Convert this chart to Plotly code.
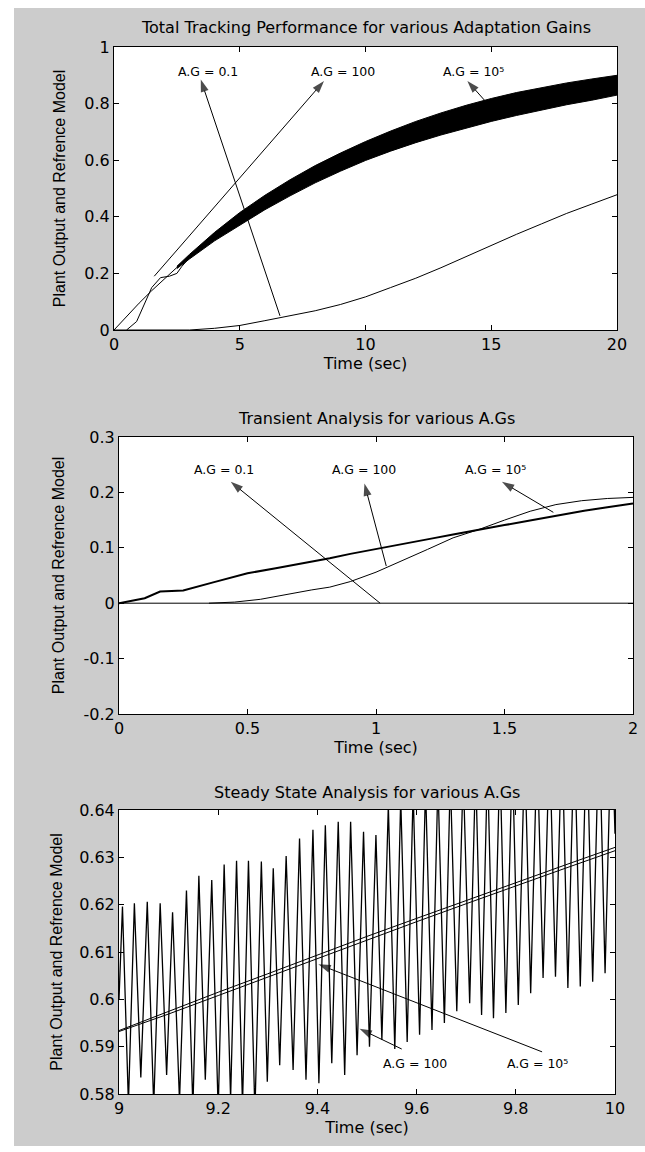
import plotly.graph_objects as go

# ---------------- data ----------------
# Panel 1: Total tracking performance (0..20 s)
ref1_t = [0, 0.5, 1, 1.5, 2, 2.5, 3, 4, 5, 6, 7, 8, 9, 10, 11, 12, 13, 14, 15, 16, 17, 18, 19, 20]
ref1_v = [0, 0.049, 0.095, 0.139, 0.181, 0.221, 0.259, 0.330, 0.393, 0.451, 0.503, 0.551, 0.593,
          0.632, 0.667, 0.699, 0.727, 0.753, 0.777, 0.798, 0.817, 0.835, 0.850, 0.865]
band_t = [2.5, 3, 4, 5, 6, 7, 8, 9, 10, 11, 12, 13, 14, 15, 16, 17, 18, 19, 20]
band_hi = [0.225, 0.267, 0.345, 0.415, 0.476, 0.531, 0.581, 0.625, 0.666, 0.703, 0.737, 0.767,
           0.794, 0.818, 0.839, 0.857, 0.873, 0.887, 0.900]
band_lo = [0.217, 0.251, 0.315, 0.371, 0.425, 0.474, 0.520, 0.561, 0.599, 0.632, 0.662, 0.689,
           0.714, 0.737, 0.758, 0.777, 0.796, 0.812, 0.830]
ag100_1_t = [0.5, 0.9, 1.5, 1.85, 2.2, 2.35, 2.5, 2.7, 2.9]
ag100_1_v = [0.0, 0.03, 0.15, 0.185, 0.19, 0.195, 0.2, 0.225, 0.245]
ag01_1_t = [0, 3, 4, 5, 6, 7, 8, 9, 10, 11, 12, 13, 14, 15, 16, 17, 18, 19, 20]
ag01_1_v = [0, 0.0, 0.006, 0.016, 0.033, 0.05, 0.068, 0.09, 0.117, 0.15, 0.183, 0.22, 0.26,
            0.3, 0.338, 0.375, 0.412, 0.445, 0.478]

# Panel 2: Transient (0..2 s)
ag1e5_2_t = [0, 0.1, 0.16, 0.25, 0.37, 0.5, 0.61, 0.73, 0.82, 0.9, 1.02, 1.1, 1.22, 1.3, 1.42,
             1.5, 1.61, 1.7, 1.81, 1.9, 2.0]
ag1e5_2_v = [0, 0.009, 0.021, 0.023, 0.038, 0.054, 0.063, 0.073, 0.081, 0.089, 0.099, 0.106,
             0.117, 0.124, 0.135, 0.141, 0.150, 0.158, 0.167, 0.173, 0.180]
ag100_2_t = [0.35, 0.45, 0.55, 0.65, 0.75, 0.82, 0.9, 1.0, 1.1, 1.2, 1.3, 1.4, 1.5, 1.6, 1.7,
             1.8, 1.9, 2.0]
ag100_2_v = [0.0, 0.002, 0.007, 0.016, 0.024, 0.029, 0.039, 0.056, 0.076, 0.097, 0.118, 0.133,
             0.150, 0.166, 0.178, 0.185, 0.189, 0.191]
ag01_2_t = [0, 2]
ag01_2_v = [0, 0]

# Panel 3: Steady state (9..10 s)
ref3_t = [9.0, 9.1, 9.2, 9.3, 9.4, 9.5, 9.6, 9.7, 9.8, 9.9, 10.0]
ref3_v = [0.5934, 0.5975, 0.6015, 0.6054, 0.6094, 0.6133, 0.6171, 0.6209, 0.6247, 0.6284, 0.6321]
ag1e5_3_v = [0.5932, 0.5969, 0.6008, 0.6047, 0.6086, 0.6126, 0.6164, 0.6202, 0.6240, 0.6277, 0.6314]
peak_t = [9.007, 9.031, 9.057, 9.083, 9.108, 9.136, 9.161, 9.187, 9.212, 9.237, 9.261, 9.287,
          9.311, 9.337, 9.364, 9.391, 9.416, 9.442, 9.467, 9.493, 9.518, 9.543, 9.568, 9.593,
          9.618, 9.643, 9.668, 9.694, 9.719, 9.743, 9.768, 9.793, 9.818, 9.843, 9.868, 9.893,
          9.918, 9.943, 9.968, 9.993]
peak_v = [0.6196, 0.6203, 0.6206, 0.6203, 0.6184, 0.6230, 0.6261, 0.6252, 0.6285, 0.6293, 0.6293,
          0.6291, 0.6277, 0.6303, 0.6340, 0.6358, 0.6368, 0.6375, 0.6375, 0.6354, 0.6347, 0.6410,
          0.6425, 0.6440, 0.6450, 0.6460, 0.6470, 0.6480, 0.6490, 0.6500, 0.6510, 0.6520, 0.6530,
          0.6540, 0.6550, 0.6560, 0.6570, 0.6580, 0.6590, 0.6600]
trough_t = [9.019, 9.044, 9.070, 9.096, 9.122, 9.149, 9.174, 9.200, 9.225, 9.249, 9.274, 9.299,
            9.324, 9.351, 9.377, 9.403, 9.429, 9.455, 9.480, 9.505, 9.530, 9.556, 9.581, 9.606,
            9.631, 9.656, 9.681, 9.707, 9.731, 9.755, 9.780, 9.805, 9.830, 9.855, 9.880, 9.905,
            9.930, 9.955, 9.980]
trough_v = [0.5780, 0.5835, 0.5775, 0.5840, 0.5785, 0.5770, 0.5830, 0.5765, 0.5790, 0.5775, 0.5760,
            0.5826, 0.5861, 0.5851, 0.5830, 0.5823, 0.5865, 0.5840, 0.5882, 0.5900, 0.5914, 0.5895,
            0.5910, 0.5925, 0.5935, 0.5950, 0.5975, 0.5992, 0.5967, 0.5960, 0.5971, 0.5988, 0.6013,
            0.6045, 0.6048, 0.6024, 0.6027, 0.6037, 0.6055]
osc_start = (9.0, 0.600)
osc_end = (10.0, 0.635)

# tick labels
y2_tickvals = [-0.2, -0.1, 0, 0.1, 0.2, 0.3]
y2_ticktext = ["-0.2", "-0.1", "0", "0.1", "0.2", "0.3"]

titles = ["Total Tracking Performance for various Adaptation Gains",
          "Transient Analysis for various A.Gs",
          "Steady State Analysis for various A.Gs"]
xlabel = "Time (sec)"
ylabel = "Plant Output and Refrence Model"

# annotations: (label, text_x, text_y, head_x, head_y, tail_x, tail_y)
labels1 = [("A.G = 0.1", 3.75, 0.915, 3.45, 0.885, 6.6, 0.05),
           ("A.G = 100", 9.1, 0.915, 8.35, 0.88, 1.6, 0.19),
           ("A.G = 10⁵", 14.3, 0.915, 14.05, 0.88, 14.8, 0.805)]
labels2 = [("A.G = 0.1", 0.41, 0.241, 0.435, 0.219, 1.016, 0.0),
           ("A.G = 100", 0.954, 0.241, 0.955, 0.216, 1.04, 0.067),
           ("A.G = 10⁵", 1.464, 0.241, 1.49, 0.219, 1.69, 0.164)]
labels3 = [("A.G = 100", 9.597, 0.5865, 9.485, 0.5938, 9.57, 0.5895),
           ("A.G = 10⁵", 9.843, 0.5865, 9.402, 0.6074, 9.853, 0.5889)]

# ---------------- figure ----------------
W, H = 645, 1152


def fx(p):
    return p / W


def fy(p):
    return 1 - p / H


fig = go.Figure()
K = dict(showlegend=False, hoverinfo="skip")
L1 = dict(color="black", width=1)

# panel 1
fig.add_trace(go.Scatter(x=ag01_1_t, y=ag01_1_v, mode="lines", line=L1, xaxis="x", yaxis="y", **K))
fig.add_trace(go.Scatter(x=ref1_t, y=ref1_v, mode="lines", line=L1, xaxis="x", yaxis="y", **K))
fig.add_trace(go.Scatter(x=ag100_1_t, y=ag100_1_v, mode="lines", line=L1, xaxis="x", yaxis="y", **K))
fig.add_trace(go.Scatter(x=band_t, y=band_lo, mode="lines", line=L1, xaxis="x", yaxis="y", **K))
fig.add_trace(go.Scatter(x=band_t, y=band_hi, mode="lines", line=L1, fill="tonexty",
                         fillcolor="black", xaxis="x", yaxis="y", **K))

# panel 2
fig.add_trace(go.Scatter(x=ag01_2_t, y=ag01_2_v, mode="lines", line=L1, xaxis="x2", yaxis="y2", **K))
fig.add_trace(go.Scatter(x=ag100_2_t, y=ag100_2_v, mode="lines", line=L1, xaxis="x2", yaxis="y2", **K))
fig.add_trace(go.Scatter(x=ag1e5_2_t, y=ag1e5_2_v, mode="lines", line=dict(color="black", width=2),
                         xaxis="x2", yaxis="y2", **K))

# panel 3
pts = [osc_start] + sorted(list(zip(peak_t, peak_v)) + list(zip(trough_t, trough_v))) + [osc_end]
fig.add_trace(go.Scatter(x=[p[0] for p in pts], y=[p[1] for p in pts], mode="lines",
                         line=dict(color="black", width=1.3), xaxis="x3", yaxis="y3", **K))
fig.add_trace(go.Scatter(x=ref3_t, y=ref3_v, mode="lines", line=L1, xaxis="x3", yaxis="y3", **K))
fig.add_trace(go.Scatter(x=ref3_t, y=ag1e5_3_v, mode="lines", line=L1, xaxis="x3", yaxis="y3", **K))

# arrows (shaft + arrow-head marker oriented along the shaft)
for labs, xa, ya in [(labels1, "x", "y"), (labels2, "x2", "y2"), (labels3, "x3", "y3")]:
    for txt, tx, ty, hx, hy, sx, sy in labs:
        fig.add_trace(go.Scatter(x=[sx, hx], y=[sy, hy], mode="lines+markers", line=L1,
                                 marker=dict(symbol="arrow", size=[0, 13], angleref="previous",
                                             color="black", line=dict(width=0)),
                                 xaxis=xa, yaxis=ya, cliponaxis=False, **K))

TICKFONT = dict(family="DejaVu Sans", size=16, color="black")
TFONT = dict(family="DejaVu Sans", size=16, color="black")
YFONT = dict(family="Liberation Sans", size=16, color="black")
ax = dict(showline=True, linecolor="black", linewidth=1, mirror="ticks", ticks="inside", ticklen=5,
          tickwidth=1, tickcolor="black", showgrid=False, zeroline=False, tickfont=TICKFONT,
          automargin=False)

layout = dict(
    width=W, height=H, margin=dict(l=0, r=0, t=0, b=0),
    paper_bgcolor="#cccccc", plot_bgcolor="white",
    xaxis=dict(ax, domain=[fx(114), fx(617)], range=[0, 20], dtick=5, anchor="y",
               title=dict(text=xlabel, font=TFONT, standoff=4)),
    yaxis=dict(ax, domain=[fy(330), fy(47)], range=[0, 1], dtick=0.2, anchor="x",
               title=dict(text=ylabel, font=YFONT, standoff=14)),
    xaxis2=dict(ax, domain=[fx(119), fx(633)], range=[0, 2], dtick=0.5, anchor="y2",
                title=dict(text=xlabel, font=TFONT, standoff=4)),
    yaxis2=dict(ax, domain=[fy(714), fy(437)], range=[-0.2, 0.3], tickvals=y2_tickvals,
                ticktext=y2_ticktext, anchor="x2",
                title=dict(text=ylabel, font=YFONT, standoff=14)),
    xaxis3=dict(ax, domain=[fx(119), fx(615)], range=[9, 10], dtick=0.2, anchor="y3",
                title=dict(text=xlabel, font=TFONT, standoff=4)),
    yaxis3=dict(ax, domain=[fy(1094), fy(810)], range=[0.58, 0.64], dtick=0.01, anchor="x3",
                title=dict(text=ylabel, font=YFONT, standoff=12)),
)
fig.update_layout(**layout)

# white page strips around the gray figure area
for x0, x1, y0, y1 in [(0, 14, 0, H), (0, W, 0, 8), (0, W, 1146, H)]:
    fig.add_shape(type="rect", xref="paper", yref="paper", x0=fx(x0), x1=fx(x1), y0=fy(y1), y1=fy(y0),
                  fillcolor="white", line=dict(width=0), layer="above")

annots = []
for txt, cx, cy in zip(titles, [365.5, 376, 367], [27, 418, 792]):
    annots.append(dict(xref="paper", yref="paper", x=fx(cx), y=fy(cy), text=txt, showarrow=False,
                       font=TFONT, xanchor="center", yanchor="middle"))

AFONT = dict(family="DejaVu Sans", size=12.5, color="black")
for labs, xr, yr in [(labels1, "x", "y"), (labels2, "x2", "y2"), (labels3, "x3", "y3")]:
    for txt, tx, ty, hx, hy, sx, sy in labs:
        annots.append(dict(xref=xr, yref=yr, x=tx, y=ty, text=txt, showarrow=False, font=AFONT,
                           xanchor="center", yanchor="middle"))
fig.update_layout(annotations=annots)

fig.write_html("out.html", config={"displayModeBar": False},
               post_script="document.body.style.margin='0';document.body.style.overflow='hidden';")
